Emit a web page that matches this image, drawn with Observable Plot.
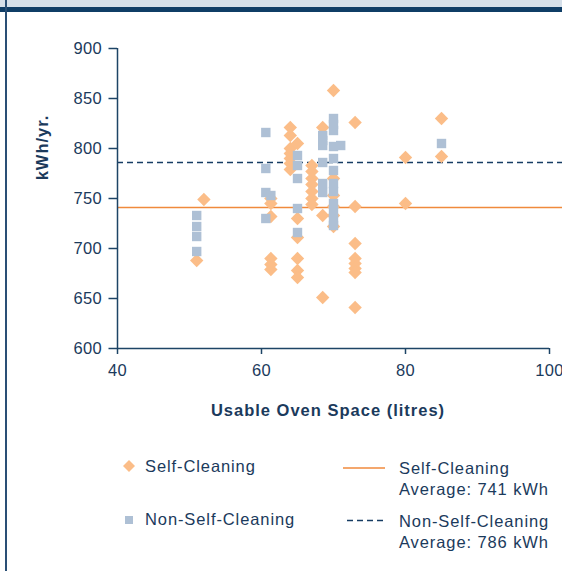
<!DOCTYPE html>
<html>
<head>
<meta charset="utf-8">
<script src="https://cdn.jsdelivr.net/npm/d3@7"></script>
<script src="https://cdn.jsdelivr.net/npm/@observablehq/plot@0.6"></script>
<style>
  html, body { margin: 0; padding: 0; background: #fff; }
  #page { position: relative; width: 562px; height: 571px; overflow: hidden; font-family: "Liberation Sans", Arial, sans-serif; color: #1b3a5c; }
  #band { position: absolute; left: 0; top: 0; width: 562px; height: 7px; background: #d5dfe9; }
  #bar { position: absolute; left: 0; top: 7px; width: 562px; height: 5px; background: #0f3d66; }
  #border { position: absolute; left: 5px; top: 0; width: 2px; height: 571px; background: #2a4f75; }
  #chart { position: absolute; left: 0; top: 0; }
  #overlay { position: absolute; left: 0; top: 0; }
</style>
</head>
<body>
<div id="page">
  <div id="band"></div>
  <div id="bar"></div>
  <div id="border"></div>
  <div id="chart"></div>
  <svg id="overlay" width="562" height="571"></svg>
</div>
<script>
// ---- data ----
const selfCleaningX = [51, 52,
  61.3, 61.3, 61.3, 61.3, 61.3, 61.3,
  64, 64, 64, 64, 64, 64, 64,
  65, 65, 65, 65, 65, 65,
  67, 67, 67, 67, 67, 67, 67,
  68.5, 68.5, 68.5,
  70, 70, 70, 70, 70, 70,
  73, 73, 73, 73, 73, 73, 73, 73,
  80, 80,
  85, 85];
const selfCleaningY = [688, 749,
  750, 745, 732, 690, 684, 679,
  821, 813, 800, 795, 790, 785, 779,
  805, 730, 711, 690, 678, 671,
  783, 777, 770, 764, 757, 750, 744,
  821, 733, 651,
  858, 770, 753, 742, 733, 722,
  826, 742, 705, 690, 685, 680, 676, 641,
  791, 745,
  830, 792];

const nonSelfCleaningX = [51, 51, 51, 51,
  60.6, 60.6, 60.6, 60.6, 61.3,
  65, 65, 65, 65, 65,
  68.5, 68.5, 68.5, 68.5, 68.5, 68.5,
  70, 70, 70, 70, 70, 70, 70, 70, 70, 70, 70, 70,
  71,
  85];
const nonSelfCleaningY = [733, 722, 712, 697,
  816, 780, 756, 730, 753,
  793, 783, 770, 740, 716,
  813, 808, 803, 786, 765, 756,
  830, 824, 818, 802, 790, 778, 765, 757, 745, 736, 728, 723,
  803,
  805];

const selfCleaningAverage = 741;
const nonSelfCleaningAverage = 786;

const xTicks = [40, 60, 80, 100];
const yTicks = [600, 650, 700, 750, 800, 850, 900];
const xLabel = "Usable Oven Space (litres)";
const yLabel = "kWh/yr.";
const legendSeries = ["Self-Cleaning", "Non-Self-Cleaning"];
const legendAverages = [
  ["Self-Cleaning", "Average: 741 kWh"],
  ["Non-Self-Cleaning", "Average: 786 kWh"]
];

// ---- styles ----
const colors = {
  self: "#fbbd88",
  nonSelf: "#aec0d5",
  avgSelf: "#f08a3c",
  avgNonSelf: "#163c63",
  axis: "#1d4466",
  text: "#1b3a5c"
};

const selfData = selfCleaningX.map((x, i) => ({x, y: selfCleaningY[i]}));
const nonSelfData = nonSelfCleaningX.map((x, i) => ({x, y: nonSelfCleaningY[i]}));

const diamondSym = {draw(ctx, size) {
  const r = Math.sqrt(size / Math.PI);
  ctx.moveTo(0, -r); ctx.lineTo(r, 0); ctx.lineTo(0, r); ctx.lineTo(-r, 0); ctx.closePath();
}};
const squareSym = {draw(ctx, size) {
  const r = Math.sqrt(size / Math.PI);
  ctx.moveTo(-r, -r); ctx.lineTo(r, -r); ctx.lineTo(r, r); ctx.lineTo(-r, r); ctx.closePath();
}};

const chart = Plot.plot({
  width: 562,
  height: 430,
  marginTop: 48,
  marginLeft: 117,
  marginRight: 0,
  marginBottom: 82,
  x: {domain: [xTicks[0], xTicks[xTicks.length - 1]], range: [117, 549]},
  y: {domain: [yTicks[0], yTicks[yTicks.length - 1]]},
  style: {
    fontFamily: '"Liberation Sans", Arial, sans-serif',
    fontSize: "16.5px",
    color: colors.text,
    background: "transparent",
    letterSpacing: "0.3px",
    overflow: "visible"
  },
  marks: [
    Plot.ruleY([selfCleaningAverage], {stroke: colors.avgSelf, strokeWidth: 1.5}),
    Plot.ruleY([nonSelfCleaningAverage], {stroke: colors.avgNonSelf, strokeWidth: 1.5, strokeDasharray: "6,4"}),
    Plot.dot(selfData, {x: "x", y: "y", symbol: diamondSym, r: 6.7, fill: colors.self, stroke: "none"}),
    Plot.dot(nonSelfData, {x: "x", y: "y", symbol: squareSym, r: 4.7, fill: colors.nonSelf, stroke: "none"}),
    Plot.axisY({ticks: yTicks, tickSize: 8.5, tickPadding: 7, tickFormat: d => String(d), stroke: colors.axis, strokeWidth: 1.5, fill: colors.text, label: null}),
    Plot.axisX({ticks: xTicks, tickSize: 6, tickPadding: 10, tickFormat: d => String(d), stroke: colors.axis, strokeWidth: 1.5, fill: colors.text, label: null}),
    Plot.ruleX([xTicks[0]], {y1: yTicks[0], y2: yTicks[yTicks.length - 1], stroke: colors.axis, strokeWidth: 1.5}),
    Plot.ruleY([yTicks[0]], {x1: xTicks[0], x2: xTicks[xTicks.length - 1], stroke: colors.axis, strokeWidth: 1.5})
  ]
});
document.getElementById("chart").appendChild(chart);

// ---- axis titles and legend ----
const ov = d3.select("#overlay")
  .style("font-family", '"Liberation Sans", Arial, sans-serif')
  .style("fill", colors.text);

ov.append("text")
  .attr("transform", "translate(48,147.5) rotate(-90)")
  .attr("text-anchor", "middle")
  .style("font-weight", "bold").style("font-size", "16.5px").style("letter-spacing", "1px")
  .text(yLabel);

ov.append("text")
  .attr("x", 328).attr("y", 416)
  .attr("text-anchor", "middle")
  .style("font-weight", "bold").style("font-size", "16.5px").style("letter-spacing", "1px")
  .text(xLabel);

// series legend
ov.append("path").attr("d", "M129,460 L135,466 L129,472 L123,466 Z").attr("fill", colors.self);
ov.append("rect").attr("x", 125).attr("y", 516).attr("width", 8).attr("height", 8).attr("fill", colors.nonSelf);
[[legendSeries[0], 472], [legendSeries[1], 525]].forEach(([t, y]) => {
  ov.append("text").attr("x", 145).attr("y", y)
    .style("font-size", "16.5px").style("letter-spacing", "0.9px").text(t);
});

// average legend
ov.append("line").attr("x1", 343).attr("x2", 385).attr("y1", 468).attr("y2", 468)
  .attr("stroke", colors.avgSelf).attr("stroke-width", 1.5);
ov.append("line").attr("x1", 347).attr("x2", 385).attr("y1", 520.5).attr("y2", 520.5)
  .attr("stroke", colors.avgNonSelf).attr("stroke-width", 1.5).attr("stroke-dasharray", "6,4");
[[legendAverages[0], 473.5], [legendAverages[1], 526.5]].forEach(([lines, y]) => {
  lines.forEach((t, i) => {
    ov.append("text").attr("x", 399).attr("y", y + i * 21.5)
      .style("font-size", "16.5px").style("letter-spacing", "0.9px").text(t);
  });
});
</script>
</body>
</html>
